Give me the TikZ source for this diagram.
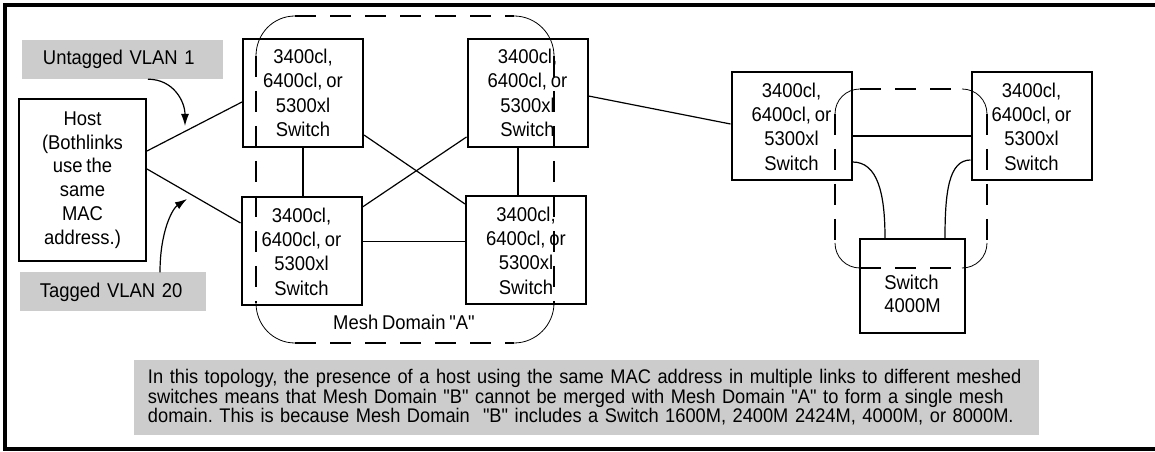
\documentclass[tikz,border=0pt]{standalone}
\usepackage{fontspec}
\setmainfont{Liberation Sans}[Ligatures=TeXOff,FakeStretch=0.925,WordSpace=0.75]
\usetikzlibrary{arrows.meta,calc}
\definecolor{labelgray}{RGB}{204,204,204}
\frenchspacing

\begin{document}
\begin{tikzpicture}[x=1bp,y=-1bp,font=\fontsize{20}{24.5}\selectfont,
    switchbox/.style={draw,line width=2bp,minimum width=120bp,minimum height=108bp,inner sep=0pt,align=center},
    vlanlabel/.style={fill=labelgray,minimum height=39bp,inner ysep=0pt,align=left},
    link/.style={line width=1.2bp},
    trunk/.style={line width=2bp},
    pointer/.style={line width=1.2bp,-{Latex[length=12bp,width=8bp]}},
    meshdash/.style={line width=2.2bp,dash pattern=on 21bp off 14bp},
    meshcorner/.style={line width=0.8bp}]
  \useasboundingbox (0,0) rectangle (1155,452);
  % frame
  \draw[line width=3.2bp] (1160,5) -| (5,449) -- (1160,449);

  % mesh domain A
  \draw[meshdash] (295,16) -- (514,16);
  \draw[meshdash] (295,343) -- (514,343);
  \draw[meshdash] (256,56) -- (256,303);
  \draw[meshdash] (554,56) -- (554,303);
  \draw[meshcorner] (256,56) .. controls (256,34) and (273,16) .. (295,16);
  \draw[meshcorner] (514,16) .. controls (536,16) and (554,34) .. (554,56);
  \draw[meshcorner] (256,303) .. controls (256,325) and (273,343) .. (295,343);
  \draw[meshcorner] (514,343) .. controls (536,343) and (554,325) .. (554,303);
  % mesh domain B
  \draw[meshdash] (860,89) -- (962,89);
  \draw[meshdash] (860,268) -- (962,268);
  \draw[meshdash] (835,114) -- (835,243);
  \draw[meshdash] (987,114) -- (987,243);
  \draw[meshcorner] (835,114) .. controls (835,100) and (846,89) .. (860,89);
  \draw[meshcorner] (962,89) .. controls (976,89) and (987,100) .. (987,114);
  \draw[meshcorner] (835,243) .. controls (835,257) and (846,268) .. (860,268);
  \draw[meshcorner] (962,268) .. controls (976,268) and (987,257) .. (987,243);

  % labels
  \node[vlanlabel,text width=159bp,inner xsep=21bp] (untag) at (122.5,59.5) {Untagged VLAN 1};
  \node[vlanlabel,text width=146bp,inner xsep=20bp] (tag) at (113,292) {Tagged VLAN 20};
  \node (meshA) at (404,322) {Mesh Domain "A"};

  % host and switches
  \node[draw,line width=2bp,minimum width=127bp,minimum height=162bp,inner sep=0pt,align=center,
        font=\fontsize{20}{23.8}\selectfont] (host) at (82.5,180)
        {Host\\(Bothlinks\\use the\\same\\MAC\\address.)};
  \node[switchbox] (s1) at (303,93) {3400cl,\\6400cl, or\\5300xl\\Switch};
  \node[switchbox] (s2) at (527.5,93) {3400cl,\\6400cl, or\\5300xl\\Switch};
  \node[switchbox] (s3) at (301.5,251.5) {3400cl,\\6400cl, or\\5300xl\\Switch};
  \node[switchbox] (s4) at (526,250.5) {3400cl,\\6400cl, or\\5300xl\\Switch};
  \node[switchbox] (s5) at (791.5,126.5) {3400cl,\\6400cl, or\\5300xl\\Switch};
  \node[switchbox] (s6) at (1031.5,126.5) {3400cl,\\6400cl, or\\5300xl\\Switch};
  \node[draw,line width=2bp,minimum width=105bp,minimum height=94bp,inner sep=0pt,
        label={[yshift=-7.5bp,align=left,font=\fontsize{20}{23}\selectfont]center:Switch\\4000M}] (sw4000) at (912.5,286) {};

  % links
  \draw[link] ([yshift=29bp]host.east) -- ([yshift=-9bp]s1.west);
  \draw[link] ([yshift=11bp]host.east) -- ([yshift=28.5bp]s3.west);
  \draw[trunk] (s1.south) -- (s1.south |- s3.north);
  \draw[trunk] ([xshift=-10bp]s2.south) -- ([xshift=-10bp]s2.south |- s4.north);
  \draw[link] ([yshift=-42bp]s1.east) -- ([yshift=46.5bp]s4.west);
  \draw[link] ([yshift=44.5bp]s3.east) -- ([yshift=-44bp]s2.west);
  \draw[link] ([yshift=10bp]s3.east) -- ([yshift=10bp]s3.east -| s4.west);
  \draw[link] ([yshift=-3bp]s2.east) -- ([yshift=2.5bp]s5.west);
  \draw[trunk] ([yshift=-9.5bp]s5.east) -- ([yshift=-9.5bp]s5.east -| s6.west);
  \draw[link] ([yshift=-35.5bp]s5.east) .. controls +(25,0) and +(0,-45) .. ([xshift=-27.5bp]sw4000.north);
  \draw[link] ([yshift=-33.5bp]s6.west) .. controls +(-22,0) and +(0,-45) .. ([xshift=32.5bp]sw4000.north);

  % pointers
  \coordinate (untagtip) at (185,126);
  \coordinate (tagtip) at (187,199);
  \draw[pointer] ([xshift=25.5bp]untag.south) .. controls +(25,0) and +(0,-25) .. (untagtip);
  \draw[pointer] ([xshift=47bp]tag.north) .. controls +(0,-40) and +(-15,10) .. (tagtip);

  % note
  \node[fill=labelgray,text width=877bp,inner xsep=14bp,inner ysep=0pt,minimum height=75bp,align=left,
        font=\fontsize{19.8}{19.5}\selectfont] (note) at (586.5,397.5)
        {In this topology, the presence of a host using the same MAC address in multiple links to different meshed\\
         switches means that Mesh Domain "B" cannot be merged with Mesh Domain "A" to form a single mesh\\
         domain. This is because Mesh Domain\ \ "B" includes a Switch 1600M, 2400M 2424M, 4000M, or 8000M.};
\end{tikzpicture}
\end{document}
